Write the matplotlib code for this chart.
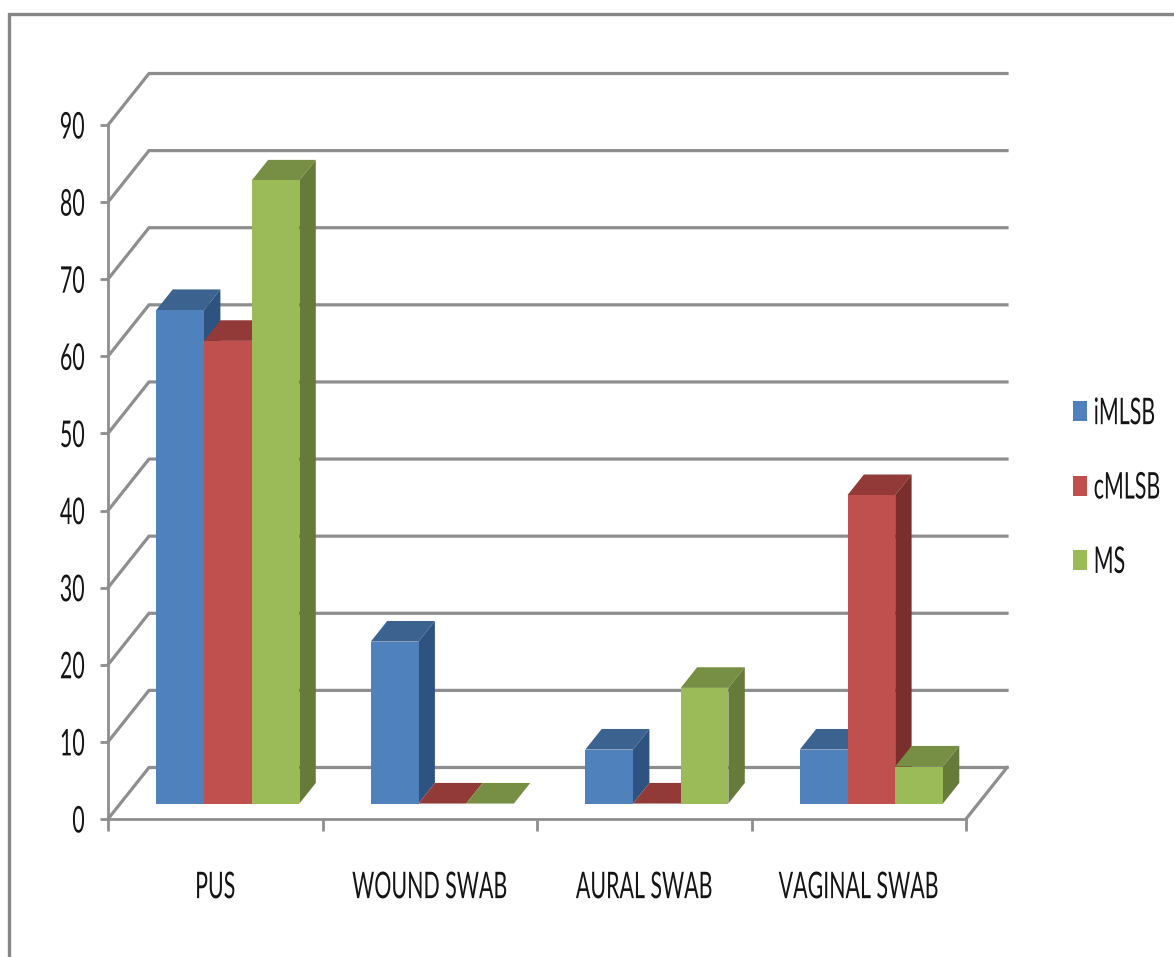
import matplotlib
matplotlib.use("Agg")
import matplotlib.pyplot as plt
from matplotlib.patches import Patch, Polygon
from matplotlib.patheffects import AbstractPathEffect
from matplotlib.transforms import Affine2D

categories = ["PUS", "WOUND SWAB", "AURAL SWAB", "VAGINAL SWAB"]
imlsb = [64, 21, 7, 7]
cmlsb = [60, 0, 0, 40]
ms = [80.8, 0, 15, 4.8]
series_names = ["iMLSB", "cMLSB", "MS"]
y_ticks = [0, 10, 20, 30, 40, 50, 60, 70, 80, 90]

# front, top and side shade of each series
blue = ("#4F81BD", "#3C6290", "#2F5380")
red = ("#C0504D", "#923A38", "#7A2F2D")
green = ("#9BBB59", "#778F44", "#667B3A")

W, H = 1174, 957
grid_col = "#8E8E8E"
txt_col = "#141414"
font = ["Lato", "Liberation Sans"]
font_size = 15.4


class TallText(AbstractPathEffect):
    # stretches glyphs vertically about their own middle
    def __init__(self, k):
        self.k = k

    def draw_path(self, renderer, gc, tpath, affine, rgbFace=None):
        box = tpath.transformed(affine).get_extents()
        cy = (box.y0 + box.y1) / 2
        tall = Affine2D().translate(0, -cy).scale(1, self.k).translate(0, cy)
        renderer.draw_path(gc, tpath, affine + tall, rgbFace)


tall = [TallText(1.72)]

fig = plt.figure(figsize=(W / 100, H / 100), dpi=100, facecolor="white")
ax = fig.add_axes([108 / W, (H - 819) / H, 858 / W, 694 / H], facecolor="none")
ax.set_xlim(0, 4)
ax.set_ylim(0, 90)

# depth of the floor, in axis units
dx = 41 / 214.5
dy = 51.5 / 7.71

# back wall and left wall lines
for v in y_ticks:
    ax.plot([0, dx, 4 + dx], [v, v + dy, v + dy], color=grid_col, lw=2.3,
            clip_on=False, zorder=1, solid_joinstyle="miter")
ax.plot([4, 4 + dx], [0, dy], color=grid_col, lw=2.3, clip_on=False, zorder=1)

# bars
bar_w = 47.7 / 214.5
first = 36 / 214.5
near = 0.3
far = 0.7
z = 3
for i in range(len(categories)):
    for j, (vals, cols) in enumerate(zip([imlsb, cmlsb, ms], [blue, red, green])):
        x0 = i + first + j * bar_w + near * dx
        x1 = x0 + bar_w
        y0 = near * dy
        y1 = y0 + vals[i]
        sx = (far - near) * dx
        sy = (far - near) * dy
        ax.add_patch(Polygon([(x0, y1), (x1, y1), (x1 + sx, y1 + sy), (x0 + sx, y1 + sy)],
                             closed=True, fc=cols[1], ec="none", clip_on=False, zorder=z))
        ax.add_patch(Polygon([(x1, y0), (x1 + sx, y0 + sy), (x1 + sx, y1 + sy), (x1, y1)],
                             closed=True, fc=cols[2], ec="none", clip_on=False, zorder=z))
        ax.bar(x0, vals[i], bar_w, bottom=y0, align="edge", color=cols[0],
               clip_on=False, zorder=z + 0.5)
        z += 1

# axes
for s in ["top", "right"]:
    ax.spines[s].set_visible(False)
for s in ["left", "bottom"]:
    ax.spines[s].set_color(grid_col)
    ax.spines[s].set_linewidth(2.0)
ax.set_yticks(y_ticks)
ax.set_yticklabels([str(v) for v in y_ticks], family=font, fontsize=font_size,
                   color=txt_col, path_effects=tall)
ax.tick_params(axis="y", length=5.8, width=2.0, color=grid_col, pad=11)
ax.set_xticks(range(5))
ax.set_xticklabels([])
ax.tick_params(axis="x", length=8.6, width=2.0, color=grid_col)
ax.set_xticks([i + 0.5 for i in range(4)], minor=True)
ax.set_xticklabels(categories, minor=True, family=font, fontsize=font_size,
                   color=txt_col, path_effects=tall)
ax.tick_params(axis="x", which="minor", length=0, pad=41.5)

# legend on the right
handles = [Patch(fc=c[0], ec="none") for c in (blue, red, green)]
leg = fig.legend(handles, series_names, loc="upper left",
                 bbox_to_anchor=(1068.5 / W, 1 - 397 / H), frameon=False,
                 prop={"family": font, "size": font_size}, labelcolor=txt_col,
                 handlelength=0.65, handleheight=1.07, handletextpad=0.33,
                 labelspacing=2.48, borderpad=0.2, borderaxespad=0)
for t in leg.get_texts():
    t.set_path_effects(tall)

# outer chart frame, cut off at the right and bottom
fig.add_artist(plt.Line2D([9 / W, 9 / W, 1], [0, 1 - 14 / H, 1 - 14 / H], color="#858585",
                          lw=2.4, solid_joinstyle="miter"))

fig.savefig("out.png", dpi=100)
